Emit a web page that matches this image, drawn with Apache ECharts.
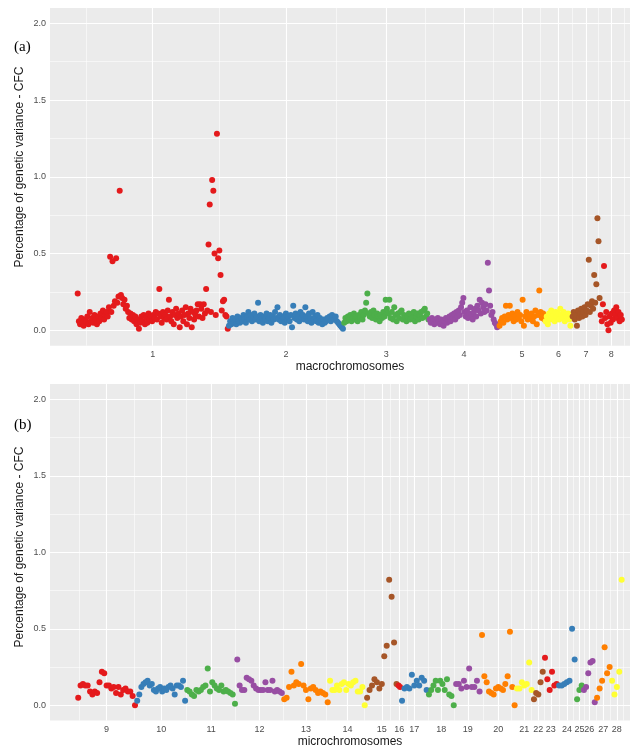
<!DOCTYPE html>
<html>
<head>
<meta charset="utf-8">
<script src="https://cdn.jsdelivr.net/npm/echarts@6.0.0/dist/echarts.min.js"></script>
<style>html,body{margin:0;padding:0;background:#fff}</style>
</head>
<body>
<div id="main" style="width:640px;height:748px"></div>
<script>
// chromosome labels and lengths (Mb)
const macroLabels = ['1', '2', '3', '4', '5', '6', '7', '8'];
const macroLen = [195.3, 148.8, 110.4, 90.2, 59.6, 34.9, 36.2, 28.8];
const microLabels = ['9', '10', '11', '12', '13', '14', '15', '16', '17', '18', '19', '20', '21', '22', '23', '24', '25', '26', '27', '28'];
const microLen = [23.2, 19.6, 19.6, 18.4, 18.0, 14.5, 12.5, 1.2, 10.6, 10.6, 10.2, 13.7, 6.7, 4.3, 5.5, 7.1, 2.7, 5.1, 5.9, 4.7];

const yTicks = [0, 0.5, 1, 1.5, 2];
const yMinor = [0.25, 0.75, 1.25, 1.75];

// percentage of genetic variance per window, in chromosome order
const chr1 = [0.24, 0.06, 0.04, 0.08, 0.05, 0.03, 0.07, 0.06, 0.09, 0.04,
  0.12, 0.06, 0.08, 0.05, 0.10, 0.07, 0.04, 0.09, 0.06, 0.11,
  0.08, 0.13, 0.07, 0.10, 0.12, 0.09, 0.15, 0.48, 0.12, 0.45,
  0.16, 0.19, 0.47, 0.18, 0.22, 0.91, 0.23, 0.21, 0.17, 0.20,
  0.14, 0.16, 0.12, 0.08, 0.11, 0.07, 0.10, 0.06, 0.09, 0.04,
  0.07, 0.01, 0.05, 0.09, 0.06, 0.10, 0.04, 0.08, 0.05, 0.11,
  0.07, 0.09, 0.06, 0.10, 0.08, 0.12, 0.07, 0.11, 0.27, 0.09,
  0.05, 0.12, 0.08, 0.10, 0.07, 0.13, 0.20, 0.09, 0.06, 0.12,
  0.04, 0.10, 0.14, 0.08, 0.11, 0.02, 0.09, 0.13, 0.06, 0.10,
  0.15, 0.04, 0.11, 0.08, 0.14, 0.02, 0.12, 0.07, 0.10, 0.13,
  0.17, 0.09, 0.17, 0.14, 0.08, 0.17, 0.11, 0.27, 0.13,
  0.56, 0.82, 0.12, 0.98, 0.91, 0.50, 0.10, 1.28, 0.47, 0.52, 0.36, 0.13, 0.19, 0.20, 0.10, 0.09, 0.01];
const chr2 = [0.03, 0.06, 0.04, 0.08, 0.05, 0.07, 0.04, 0.09, 0.06, 0.05,
  0.08, 0.06, 0.10, 0.07, 0.05, 0.09, 0.12, 0.07, 0.10, 0.06,
  0.08, 0.11, 0.07, 0.09, 0.18, 0.06, 0.10, 0.08, 0.05, 0.09,
  0.07, 0.11, 0.06, 0.08, 0.10, 0.05, 0.09, 0.07, 0.12, 0.08,
  0.15, 0.07, 0.10, 0.06, 0.09, 0.08, 0.05, 0.11, 0.07, 0.09,
  0.06, 0.10, 0.02, 0.16, 0.08, 0.11, 0.07, 0.09, 0.06, 0.12,
  0.08, 0.10, 0.07, 0.15, 0.09, 0.06, 0.11, 0.08, 0.05, 0.12,
  0.07, 0.09, 0.06, 0.10, 0.05, 0.08, 0.06, 0.04, 0.07, 0.05,
  0.06, 0.08, 0.07, 0.09, 0.06, 0.10, 0.08, 0.07, 0.09, 0.06,
  0.05, 0.04, 0.03, 0.02, 0.01];
const chr3 = [0.05, 0.08, 0.06, 0.09, 0.07, 0.10, 0.06, 0.08, 0.11, 0.07,
  0.09, 0.06, 0.10, 0.08, 0.12, 0.07, 0.10, 0.13, 0.18, 0.24,
  0.11, 0.09, 0.12, 0.08, 0.13, 0.10, 0.07, 0.11, 0.09, 0.06,
  0.10, 0.08, 0.12, 0.09, 0.20, 0.14, 0.11, 0.20, 0.08, 0.12,
  0.07, 0.15, 0.10, 0.06, 0.11, 0.08, 0.12, 0.13, 0.07, 0.10,
  0.08, 0.06, 0.09, 0.11, 0.07, 0.10, 0.08, 0.12, 0.06, 0.09,
  0.11, 0.07, 0.10, 0.12, 0.08, 0.13, 0.14, 0.09, 0.11, 0.07];
const chr4 = [0.07, 0.05, 0.08, 0.06, 0.04, 0.07, 0.05, 0.08, 0.06, 0.04,
  0.07, 0.05, 0.03, 0.06, 0.08, 0.05, 0.07, 0.09, 0.06, 0.10,
  0.08, 0.11, 0.07, 0.12, 0.09, 0.13, 0.10, 0.15, 0.18, 0.21,
  0.12, 0.09, 0.13, 0.08, 0.11, 0.15, 0.10, 0.07, 0.12, 0.14,
  0.09, 0.16, 0.13, 0.20, 0.11, 0.18, 0.15, 0.12, 0.17, 0.13,
  0.44, 0.26, 0.16, 0.10, 0.12, 0.07, 0.05, 0.04, 0.02, 0.03];
const chr5 = [0.03, 0.06, 0.08, 0.05, 0.09, 0.16, 0.07, 0.10, 0.16, 0.08,
  0.11, 0.06, 0.09, 0.07, 0.12, 0.08, 0.10, 0.06, 0.20, 0.03,
  0.09, 0.12, 0.07, 0.10, 0.08, 0.11, 0.06, 0.09, 0.13, 0.04,
  0.10, 0.26, 0.12, 0.08, 0.11, 0.07];
const chr6 = [0.06, 0.09, 0.04, 0.11, 0.07, 0.13, 0.08, 0.10, 0.06, 0.12,
  0.09, 0.11, 0.07, 0.14, 0.10, 0.08, 0.12, 0.06, 0.10, 0.09,
  0.11, 0.07, 0.03, 0.08];
const chr7 = [0.09, 0.12, 0.07, 0.10, 0.03, 0.13, 0.08, 0.11, 0.14, 0.09,
  0.12, 0.15, 0.10, 0.13, 0.17, 0.46, 0.12, 0.16, 0.19, 0.14,
  0.36, 0.18, 0.30, 0.73, 0.58, 0.21];
const chr8 = [0.10, 0.06, 0.17, 0.42, 0.08, 0.12, 0.04, 0.00, 0.09, 0.05,
  0.11, 0.07, 0.13, 0.10, 0.15, 0.08, 0.12, 0.06, 0.10, 0.07];

const chr9 = [0.05, 0.13, 0.14, 0.13, 0.13, 0.09, 0.07, 0.09, 0.08, 0.15, 0.22, 0.21, 0.13,
  0.13, 0.11, 0.12, 0.08, 0.12, 0.07, 0.10, 0.11, 0.09, 0.09, 0.06, 0.00];
const chr10 = [0.03, 0.07, 0.12, 0.14, 0.15, 0.16, 0.13, 0.14, 0.10, 0.09, 0.11, 0.12,
  0.09, 0.11, 0.10, 0.12, 0.13, 0.11, 0.07, 0.13, 0.13, 0.12, 0.16, 0.03];
const chr11 = [0.10, 0.09, 0.07, 0.06, 0.10, 0.09, 0.10, 0.12, 0.13, 0.24, 0.09,
  0.15, 0.13, 0.11, 0.10, 0.13, 0.09, 0.10, 0.09, 0.08, 0.07, 0.01];
const chr12 = [0.30, 0.13, 0.10, 0.10, 0.18, 0.17, 0.16, 0.13, 0.11, 0.10,
  0.10, 0.10, 0.15, 0.10, 0.10, 0.16, 0.09, 0.10, 0.09, 0.08];
const chr13 = [0.04, 0.05, 0.12, 0.22, 0.13, 0.15, 0.14, 0.27, 0.13, 0.10,
  0.04, 0.11, 0.12, 0.10, 0.08, 0.09, 0.08, 0.07, 0.02];
const chr14 = [0.16, 0.10, 0.10, 0.13, 0.10, 0.14, 0.15, 0.10, 0.14, 0.13, 0.15, 0.16, 0.09, 0.09, 0.12, 0.00];
const chr15 = [0.05, 0.10, 0.13, 0.17, 0.15, 0.11, 0.14, 0.32, 0.39, 0.82, 0.71, 0.41, 0.14];
const chr16 = [0.13, 0.12];
const chr17 = [0.03, 0.11, 0.12, 0.11, 0.20, 0.13, 0.16, 0.13, 0.18, 0.16, 0.10];
const chr18 = [0.07, 0.10, 0.13, 0.16, 0.10, 0.16, 0.14, 0.10, 0.17, 0.07, 0.06, 0.00];
const chr19 = [0.14, 0.14, 0.11, 0.16, 0.12, 0.24, 0.12, 0.12, 0.16, 0.09];
const chr20 = [0.46, 0.19, 0.15, 0.09, 0.08, 0.07, 0.11, 0.12, 0.11, 0.10, 0.14, 0.19, 0.48, 0.12, 0.00];
const chr21 = [0.11, 0.11, 0.15, 0.13, 0.14, 0.28, 0.10];
const chr22 = [0.04, 0.08, 0.07, 0.15, 0.22];
const chr23 = [0.31, 0.17, 0.10, 0.22, 0.13, 0.14];
const chr24 = [0.13, 0.13, 0.14, 0.15, 0.16, 0.50, 0.30];
const chr25 = [0.04, 0.10, 0.13];
const chr26 = [0.10, 0.12, 0.21, 0.28, 0.29, 0.02];
const chr27 = [0.05, 0.11, 0.16, 0.38, 0.21, 0.25];
const chr28 = [0.16, 0.07, 0.12, 0.22, 0.82];

const macroVals = [chr1, chr2, chr3, chr4, chr5, chr6, chr7, chr8];
const microVals = [chr9, chr10, chr11, chr12, chr13, chr14, chr15, chr16, chr17, chr18,
  chr19, chr20, chr21, chr22, chr23, chr24, chr25, chr26, chr27, chr28];

// ggplot Set1 colours, recycled
const palette = ['#E41A1C', '#377EB8', '#4DAF4A', '#984EA3', '#FF7F00', '#FFFF33', '#A65628'];

const series = [];

function addPanel(lengths, valsList, idx) {
  let start = 0;
  const centers = [];
  valsList.forEach(function (vals, k) {
    const len = lengths[k];
    series.push({
      type: 'scatter',
      xAxisIndex: idx,
      yAxisIndex: idx,
      symbolSize: 6,
      silent: true,
      z: 3,
      itemStyle: { color: palette[k % palette.length], opacity: 1 },
      data: vals.map(function (v, i) { return [start + (i + 0.5) * len / vals.length, v]; })
    });
    centers.push(start + len / 2);
    start += len;
  });
  return centers;
}

const macroCenters = addPanel(macroLen, macroVals, 0);
const microCenters = addPanel(microLen, microVals, 1);

// minor x grid: halfway between chromosome centres, plus one at each end
function midpoints(c) {
  const m = [c[0] - (c[1] - c[0]) / 2];
  for (let i = 0; i < c.length - 1; i++) m.push((c[i] + c[i + 1]) / 2);
  m.push(c[c.length - 1] + (c[c.length - 1] - c[c.length - 2]) / 2);
  return m;
}

function gridSeries(idx, centers) {
  const major = { color: '#FFFFFF', width: 1.1, type: 'solid' };
  const minor = { color: '#FFFFFF', width: 0.55, type: 'solid' };
  const data = [];
  yMinor.forEach(function (v) { data.push({ yAxis: v, lineStyle: minor }); });
  midpoints(centers).forEach(function (v) { data.push({ xAxis: v, lineStyle: minor }); });
  yTicks.forEach(function (v) { data.push({ yAxis: v, lineStyle: major }); });
  centers.forEach(function (v) { data.push({ xAxis: v, lineStyle: major }); });
  series.push({
    type: 'scatter',
    xAxisIndex: idx,
    yAxisIndex: idx,
    data: [],
    z: 1,
    silent: true,
    // markLine defaults to z 5, keep the grid under the points
    markLine: { z: 1, silent: true, symbol: 'none', label: { show: false }, animation: false, data: data }
  });
}
gridSeries(0, macroCenters);
gridSeries(1, microCenters);

function xAxisFor(idx, centers, labels, min, max) {
  return {
    type: 'value', gridIndex: idx, min: min, max: max,
    splitLine: { show: false },
    axisLine: { show: false },
    axisTick: { show: true, customValues: centers, length: 3, lineStyle: { color: '#333333', width: 1 } },
    axisLabel: {
      customValues: centers, fontSize: 9, color: '#4D4D4D', margin: 4, fontFamily: 'Liberation Sans',
      formatter: function (v) {
        let best = 0;
        centers.forEach(function (c, i) { if (Math.abs(c - v) < Math.abs(centers[best] - v)) best = i; });
        return labels[best];
      }
    }
  };
}

function yAxisFor(idx) {
  return {
    type: 'value', gridIndex: idx, min: -0.1, max: 2.1,
    splitLine: { show: false },
    axisLine: { show: false },
    axisTick: { show: true, customValues: yTicks, length: 3, lineStyle: { color: '#333333', width: 1 } },
    axisLabel: {
      customValues: yTicks, fontSize: 9, color: '#4D4D4D', margin: 4, fontFamily: 'Liberation Sans',
      formatter: function (v) { return v.toFixed(1); }
    }
  };
}

const titleFont = { fontSize: 12, fontFamily: 'Liberation Sans', fill: '#1A1A1A' };

const myChart = echarts.init(document.getElementById('main'));
myChart.setOption({
  animation: false,
  grid: [
    { left: 50, right: 10, top: 8, height: 337.7, show: true, backgroundColor: '#EBEBEB', borderWidth: 0 },
    { left: 50, right: 10, top: 384, height: 336.6, show: true, backgroundColor: '#EBEBEB', borderWidth: 0 }
  ],
  xAxis: [
    xAxisFor(0, macroCenters, macroLabels, -35, 714),
    xAxisFor(1, microCenters, microLabels, -10.6, 216.9)
  ],
  yAxis: [yAxisFor(0), yAxisFor(1)],
  series: series,
  graphic: [
    { type: 'text', left: 14, top: 40, style: { text: '(a)', fontSize: 15, fontFamily: 'Liberation Serif', fill: '#000' } },
    { type: 'text', left: 14, top: 418, style: { text: '(b)', fontSize: 15, fontFamily: 'Liberation Serif', fill: '#000' } },
    { type: 'text', x: 20, y: 167, rotation: Math.PI / 2,
      style: Object.assign({ text: 'Percentage of genetic variance - CFC', align: 'center', verticalAlign: 'middle' }, titleFont) },
    { type: 'text', x: 20, y: 547, rotation: Math.PI / 2,
      style: Object.assign({ text: 'Percentage of genetic variance - CFC', align: 'center', verticalAlign: 'middle' }, titleFont) },
    { type: 'text', x: 350, y: 367,
      style: Object.assign({ text: 'macrochromosomes', align: 'center', verticalAlign: 'middle' }, titleFont) },
    { type: 'text', x: 350, y: 742,
      style: Object.assign({ text: 'microchromosomes', align: 'center', verticalAlign: 'middle' }, titleFont) }
  ]
});
</script>
</body>
</html>
